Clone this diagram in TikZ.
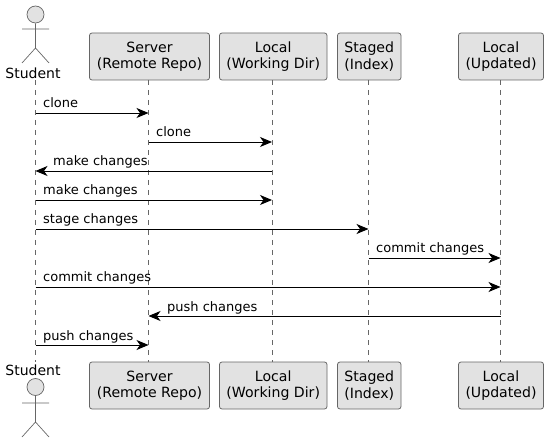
\documentclass[tikz,border=0pt]{standalone}
\usepackage{fontspec}
\setmainfont{DejaVu Sans}
\usetikzlibrary{arrows.meta}
\definecolor{boxfill}{HTML}{E2E2E2}
\definecolor{edge}{HTML}{666666}
\tikzset{
  part/.style={draw=edge,fill=boxfill,rounded corners=2.5pt,line width=0.8pt,minimum height=47pt,inner sep=0pt,align=center,font=\fontsize{14.1}{16.2}\selectfont},
  life/.style={draw=edge,line width=0.6pt,dash pattern=on 5pt off 5pt},
  msg/.style={draw=black,line width=0.9pt,-{Stealth[length=12pt,width=10pt,inset=3.5pt]}},
  lbl/.style={inner sep=0pt,anchor=base west,font=\fontsize{13}{15}\selectfont},
  actorname/.style={inner sep=0pt,font=\fontsize{14}{16}\selectfont},
  stick/.style={draw=edge,line width=0.7pt},
  head/.style={draw=edge,fill=boxfill,line width=0.7pt,circle,minimum size=17pt,inner sep=0pt}
}
\begin{document}
\begin{tikzpicture}[x=1pt,y=-1pt]
\useasboundingbox (0,0) rectangle (548,443);
% lifelines
\coordinate (stuT) at (35.5,80); \coordinate (stuB) at (35.5,362);
\draw[life] (stuT) -- (stuB);
\node[part,minimum width=120pt] (srvT) at (149.5,56.5) {Server\\(Remote Repo)};
\node[part,minimum width=120pt] (srvB) at (149.5,385.5) {Server\\(Remote Repo)};
\node[part,minimum width=107.5pt] (locT) at (273.25,56.5) {Local\\(Working Dir)};
\node[part,minimum width=107.5pt] (locB) at (273.25,385.5) {Local\\(Working Dir)};
\node[part,minimum width=63.5pt] (stgT) at (369.25,56.5) {Staged\\(Index)};
\node[part,minimum width=63.5pt] (stgB) at (369.25,385.5) {Staged\\(Index)};
\node[part,minimum width=85pt] (updT) at (501,56.5) {Local\\(Updated)};
\node[part,minimum width=85pt] (updB) at (501,385.5) {Local\\(Updated)};
\foreach \n/\x in {srv/148.5,loc/272,stg/368.5,upd/500.5}{
  \draw[life] (\x,80) -- (\x,362);
  \foreach \i/\y in {1/113,2/142,3/171,4/200,5/229,6/258,7/287,8/316,9/345}
    \coordinate (\n\i) at (\x,\y);
}
\foreach \i/\y in {1/113,2/142,3/171,4/200,5/229,6/258,7/287,8/316,9/345}
  \coordinate (stu\i) at (35.5,\y);
% actors
\node[head] (headT) at (35.5,14.5) {};
\coordinate (hipT) at (35.5,48);
\coordinate (armLT) at (22,29); \coordinate (armRT) at (49,29);
\coordinate (legLT) at (22,63); \coordinate (legRT) at (49,63);
\draw[stick] (headT) -- (hipT) (armLT) -- (armRT) (legLT) -- (hipT) -- (legRT);
\node[actorname] (nameT) at (33,73) {Student};
\node[actorname] (nameB) at (33,370) {Student};
\node[head] (headB) at (35.5,387) {};
\coordinate (hipB) at (35.5,422);
\coordinate (armLB) at (22,403); \coordinate (armRB) at (49,403);
\coordinate (legLB) at (22,437); \coordinate (legRB) at (49,437);
\draw[stick] (headB) -- (hipB) (armLB) -- (armRB) (legLB) -- (hipB) -- (legRB);
% messages
\draw[msg] (stu1) -- (srv1);
\draw[msg] (srv2) -- (loc2);
\draw[msg] (loc3) -- (stu3);
\draw[msg] (stu4) -- (loc4);
\draw[msg] (stu5) -- (stg5);
\draw[msg] (stg6) -- (upd6);
\draw[msg] (stu7) -- (upd7);
\draw[msg] (upd8) -- (srv8);
\draw[msg] (stu9) -- (srv9);
\node[lbl] (m1) at (43,108) {clone};
\node[lbl] (m2) at (156,137) {clone};
\node[lbl] (m3) at (53,166) {make changes};
\node[lbl] (m4) at (43,195) {make changes};
\node[lbl] (m5) at (43,224) {stage changes};
\node[lbl] (m6) at (376,253) {commit changes};
\node[lbl] (m7) at (43,282) {commit changes};
\node[lbl] (m8) at (167,311) {push changes};
\node[lbl] (m9) at (43,340) {push changes};
\end{tikzpicture}
\end{document}
